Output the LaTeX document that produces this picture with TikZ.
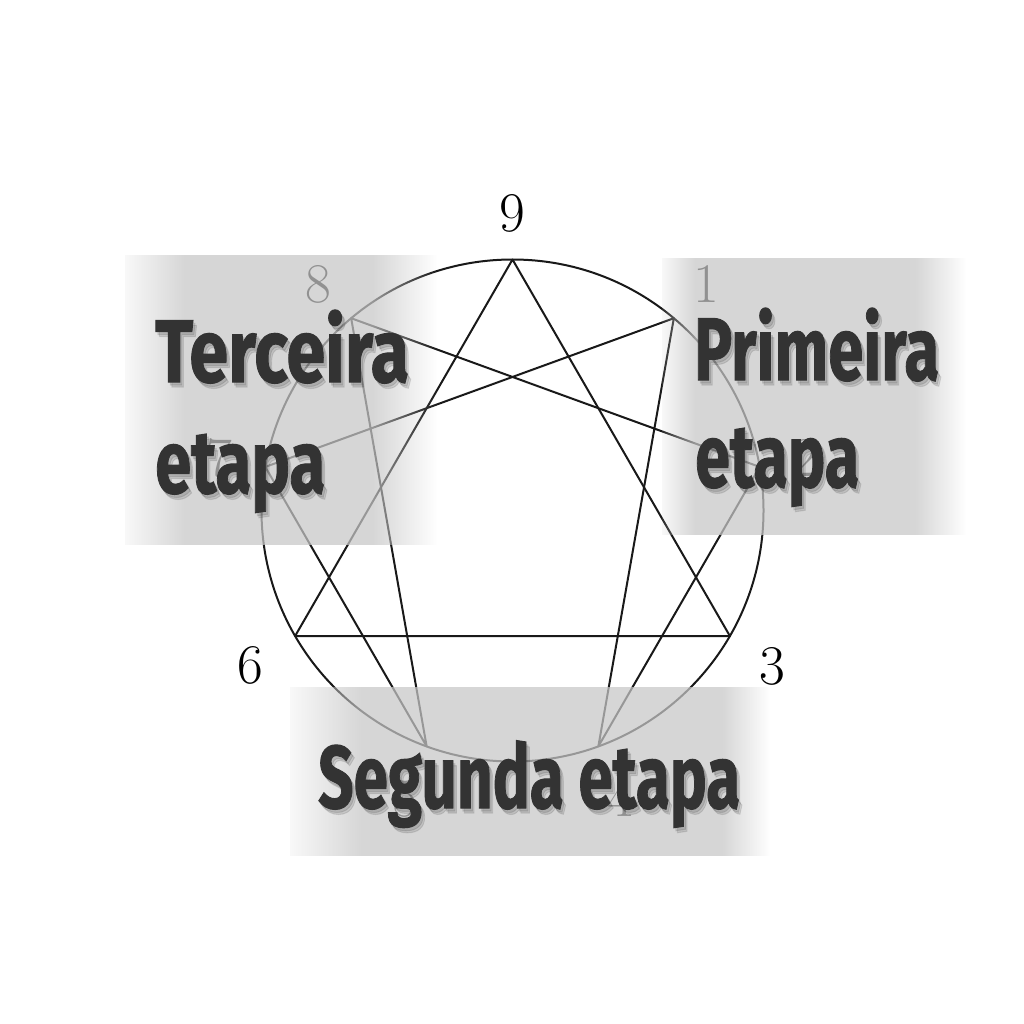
\documentclass[tikz,border=0pt]{standalone}
\usepackage{fontspec}
\usetikzlibrary{fadings,calc}
\newfontfamily\etfont{Fira Sans}[BoldFeatures={FakeBold=1.2}]
\definecolor{ettext}{HTML}{333333}
\definecolor{boxgray}{gray}{0.78}
\newcommand\fitword[2]{\resizebox{#1pt}{\height}{\etfont\bfseries\fontsize{89}{89}\selectfont #2}}
\tikzfading[name=rampin, left color=transparent!85, right color=transparent!0]
\tikzfading[name=rampout, left color=transparent!0, right color=transparent!100]
\begin{document}
\begin{tikzpicture}[x=1pt,y=-1pt,
  figline/.style={draw=black!90, line width=2pt, line join=round},
  digit/.style={font=\fontsize{56}{56}\selectfont, text=black, inner sep=0pt},
  boxfill/.style={fill=boxgray, fill opacity=0.73},
  etword/.style={anchor=base west, inner sep=0pt, text=ettext},
  etshadow/.style={anchor=base west, inner sep=0pt, text=black, text opacity=0.1}]
\useasboundingbox (0,0) rectangle (1024,1024);
\fill[white] (0,0) rectangle (1024,1024);
% enneagram
\coordinate (c) at (512.5,510.5);
\foreach \k in {1,...,9} \coordinate (p\k) at ($(c)+({40*\k-90}:251)$);
\draw[figline] (c) circle[radius=251pt];
\draw[figline] (p9) -- (p3) -- (p6) -- cycle;
\draw[figline] (p1) -- (p4) -- (p2) -- (p8) -- (p5) -- (p7) -- cycle;
\node[digit] (l9) at (512,213) {9};
\node[digit] (l1) at (706,284) {1};
\node[digit] (l2) at (805,458) {2};
\node[digit] (l3) at (772,666) {3};
\node[digit] (l4) at (620,798) {4};
\node[digit] (l5) at (405,798) {5};
\node[digit] (l6) at (250,665) {6};
\node[digit] (l7) at (219,458) {7};
\node[digit] (l8) at (318,284) {8};
% translucent boxes
\fill[boxfill, path fading=rampin] (125,255) rectangle (185,545);
\fill[boxfill] (185,255) rectangle (372,545);
\fill[boxfill, path fading=rampout] (372,255) rectangle (437,545);
\fill[boxfill, path fading=rampin] (662,258) rectangle (695,535);
\fill[boxfill] (695,258) rectangle (915,535);
\fill[boxfill, path fading=rampout] (915,258) rectangle (966,535);
\fill[boxfill, path fading=rampin] (290,687) rectangle (362,856);
\fill[boxfill] (362,687) rectangle (722,856);
\fill[boxfill, path fading=rampout] (722,687) rectangle (770,856);
% soft shadows
\foreach \dx/\dy in {2/3, 3.5/5} {
  \node[etshadow, xshift=\dx pt, yshift=-\dy pt] at (155,382) {\fitword{254}{Terceira}};
  \node[etshadow, xshift=\dx pt, yshift=-\dy pt] at (155,493) {\fitword{170}{etapa}};
  \node[etshadow, xshift=\dx pt, yshift=-\dy pt] at (694,380) {\fitword{245}{Primeira}};
  \node[etshadow, xshift=\dx pt, yshift=-\dy pt] at (695,487) {\fitword{164}{etapa}};
  \node[etshadow, xshift=\dx pt, yshift=-\dy pt] at (318,808) {\fitword{422}{Segunda etapa}};
}
% texts
\node[etword] (t3a) at (155,382) {\fitword{254}{Terceira}};
\node[etword] (t3b) at (155,493) {\fitword{170}{etapa}};
\node[etword] (t1a) at (694,380) {\fitword{245}{Primeira}};
\node[etword] (t1b) at (695,487) {\fitword{164}{etapa}};
\node[etword] (t2) at (318,808) {\fitword{422}{Segunda etapa}};
\end{tikzpicture}
\end{document}
